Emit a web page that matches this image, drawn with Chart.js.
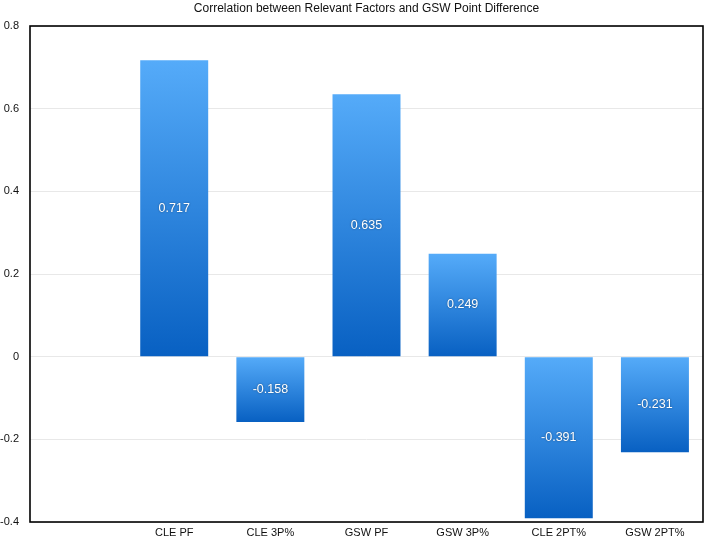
<!DOCTYPE html>
<html>
<head>
<meta charset="utf-8">
<script src="https://cdn.jsdelivr.net/npm/chart.js@4"></script>
<style>
  html, body { margin: 0; padding: 0; background: #fff; }
  #wrap { width: 705px; height: 538px; }
</style>
</head>
<body>
<div id="wrap"><canvas id="c" width="705" height="538"></canvas></div>
<script>
const titleText = "Correlation between Relevant Factors and GSW Point Difference";
const categories = ["", "CLE PF", "CLE 3P%", "GSW PF", "GSW 3P%", "CLE 2PT%", "GSW 2PT%"];
const correlations = [null, 0.717, -0.158, 0.635, 0.249, -0.391, -0.231];
const valueLabels = ["", "0.717", "-0.158", "0.635", "0.249", "-0.391", "-0.231"];
const yTickValues = [-0.4, -0.2, 0, 0.2, 0.4, 0.6, 0.8];
const yTickLabels = ["-0.4", "-0.2", "0", "0.2", "0.4", "0.6", "0.8"];

const FONT = "'Liberation Sans', Arial, Helvetica, sans-serif";

function barGradient(ctx) {
  const chart = ctx.chart;
  const ys = chart.scales && chart.scales.y;
  const v = ctx.raw;
  if (!ys || v == null || !isFinite(ys.getPixelForValue(0))) return '#2f86e0';
  const top = ys.getPixelForValue(Math.max(v, 0));
  const bottom = ys.getPixelForValue(Math.min(v, 0));
  if (!isFinite(top) || !isFinite(bottom) || top === bottom) return '#2f86e0';
  const g = chart.ctx.createLinearGradient(0, top, 0, bottom);
  g.addColorStop(0, '#55abf9');
  g.addColorStop(1, '#0860c2');
  return g;
}

const frameAndLabels = {
  id: 'frameAndLabels',
  afterDatasetsDraw(chart) {
    const c = chart.ctx;
    const meta = chart.getDatasetMeta(0);
    c.save();
    c.font = "12.5px " + FONT;
    c.fillStyle = '#ffffff';
    c.textAlign = 'center';
    c.textBaseline = 'middle';
    c.shadowColor = 'rgba(0,0,0,0.45)';
    c.shadowBlur = 2;
    meta.data.forEach((el, i) => {
      if (correlations[i] == null) return;
      const p = el.getProps(['x', 'y', 'base'], true);
      c.fillText(valueLabels[i], p.x, (p.y + p.base) / 2);
    });
    c.restore();
  },
  afterDraw(chart) {
    const a = chart.chartArea;
    const c = chart.ctx;
    c.save();
    c.strokeStyle = '#000';
    c.lineWidth = 1.6;
    c.strokeRect(a.left, a.top, a.right - a.left, a.bottom - a.top);
    c.restore();
  }
};

new Chart(document.getElementById('c'), {
  type: 'bar',
  data: {
    labels: categories,
    datasets: [{
      data: correlations,
      backgroundColor: barGradient,
      borderWidth: 0,
      barPercentage: 0.707,
      categoryPercentage: 1
    }]
  },
  options: {
    responsive: false,
    animation: false,
    devicePixelRatio: 1,
    layout: { padding: { left: 0, right: 2, top: 0, bottom: 0 } },
    plugins: {
      legend: { display: false },
      tooltip: { enabled: false },
      title: {
        display: true,
        text: titleText,
        color: '#111',
        font: { family: FONT, size: 12, weight: 'normal' },
        padding: { top: 1, bottom: 10.6 },
        fullSize: false
      }
    },
    scales: {
      x: {
        grid: { display: false, drawTicks: false },
        border: { display: false },
        ticks: { color: '#111', font: { family: FONT, size: 11 }, padding: 4, maxRotation: 0, autoSkip: false },
        afterFit(s) { s.height = 16; }
      },
      y: {
        min: -0.4,
        max: 0.8,
        grid: { color: '#e8e8e8', drawTicks: false, lineWidth: 1 },
        border: { display: false },
        afterBuildTicks(s) { s.ticks = yTickValues.map(v => ({ value: v })); },
        ticks: {
          color: '#111',
          font: { family: FONT, size: 11 },
          padding: 11,
          callback(value) {
            const i = yTickValues.findIndex(t => Math.abs(t - value) < 1e-9);
            return i >= 0 ? yTickLabels[i] : '';
          }
        },
        afterFit(s) { s.width = 30; s.paddingTop = 0; s.paddingBottom = 0; }
      }
    }
  },
  plugins: [frameAndLabels]
});
</script>
</body>
</html>
